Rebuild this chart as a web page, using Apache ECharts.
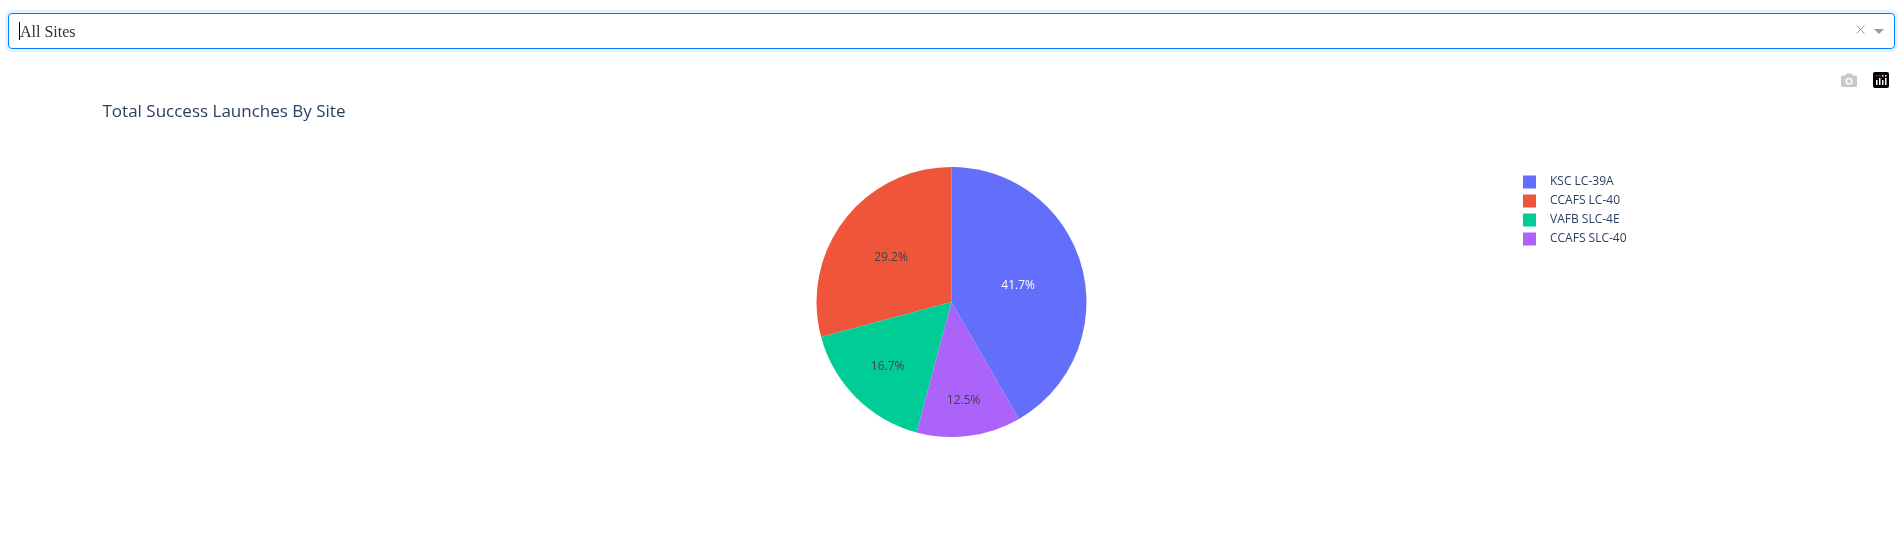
<!DOCTYPE html>
<html>
<head>
<meta charset="utf-8">
<script src="https://cdn.jsdelivr.net/npm/echarts@6/dist/echarts.min.js"></script>
<style>
html,body{margin:0;padding:0;background:#fff;width:1901px;height:549px;overflow:hidden}
#chart{position:absolute;left:0;top:0;width:1901px;height:549px}
#select{position:absolute;left:8px;top:13px;width:1887px;height:36px;box-sizing:border-box;border:1px solid #007eff;border-radius:4px;background:#fff;box-shadow:0 0 0 3px rgba(0,126,255,.1);font:16px "Liberation Serif",serif;color:#333;line-height:35px;padding-left:11px}
#caret{position:absolute;left:10px;top:8px;width:1px;height:18px;background:#000}
#clear{position:absolute;left:1847px;top:11px;width:9px;height:9px}
#arrow{position:absolute;left:1865px;top:15px;width:0;height:0;border-style:solid;border-width:5px 5px 0;border-color:#999 transparent transparent}
#camera{position:absolute;left:1841px;top:73px}
#logo{position:absolute;left:1873px;top:72px}
</style>
</head>
<body>
<div id="chart"></div>
<div id="select">All Sites<div id="caret"></div>
<svg id="clear" viewBox="0 0 9 9"><path d="M0.5 0.5L8.5 8.5M8.5 0.5L0.5 8.5" stroke="#999" stroke-width="1"/></svg>
<div id="arrow"></div></div>
<svg id="camera" width="16" height="14" viewBox="0 0 16 14"><path fill-rule="evenodd" fill="#c9c9c9" d="M1.5 2.5H4.5L5.5 0.5H10.5L11.5 2.5H14.5Q16 2.5 16 4V12.5Q16 14 14.5 14H1.5Q0 14 0 12.5V4Q0 2.5 1.5 2.5ZM8 4.8A3.5 3.5 0 1 0 8 11.8A3.5 3.5 0 1 0 8 4.8ZM8 6.3A2 2 0 1 1 8 10.3A2 2 0 1 1 8 6.3Z"/></svg>
<svg id="logo" width="16" height="16" viewBox="0 0 16 16"><rect width="16" height="16" rx="2" fill="#000"/><g fill="#fff"><rect x="3" y="8" width="1.5" height="5"/><rect x="6" y="6" width="1.5" height="7"/><rect x="9" y="8" width="1.5" height="5"/><rect x="12" y="6" width="1.5" height="7"/></g><g fill="#e6175c"><rect x="3" y="3" width="1.5" height="1.5"/><rect x="6" y="3" width="1.5" height="1.5"/></g><g fill="#fff"><rect x="9" y="3" width="1.5" height="1.5"/><rect x="12" y="3" width="1.5" height="1.5"/></g></svg>
<script>
var title = 'Total Success Launches By Site';
var sites = ['KSC LC-39A', 'CCAFS LC-40', 'VAFB SLC-4E', 'CCAFS SLC-40'];
var launches = [10, 7, 4, 3];
var colors = ['#636efa', '#ef553b', '#00cc96', '#ab63fa'];
var labelColors = ['#ffffff', '#444444', '#444444', '#444444'];
var labelShift = [[-1.5, 2], [-4.5, -1.5], [-14, 14.5], [3, 28.5]];

// Slices run counter-clockwise from the top, last site first.
var order = [1, 2, 3, 0];
var chart = echarts.init(document.getElementById('chart'), null, {renderer: 'canvas'});
chart.setOption({
  animation: false,
  title: {
    text: title, left: 102.5, top: 103.5, padding: 0,
    textStyle: {fontFamily: '"Open Sans"', fontSize: 17, fontWeight: 'normal', color: '#2a3f5f'}
  },
  legend: {
    data: sites, orient: 'vertical', left: 1523, top: 175.5, padding: 0,
    itemWidth: 13, itemHeight: 13, itemGap: 6, icon: 'rect',
    textStyle: {fontFamily: '"Open Sans"', fontSize: 12, color: '#2a3f5f', padding: [1, 0, 0, 9]},
    selectedMode: false
  },
  series: [{
    type: 'pie',
    center: [951.5, 302],
    radius: [0, 135],
    startAngle: 90,
    clockwise: false,
    sort: null,
    silent: true,
    legendHoverLink: false,
    percentPrecision: 3,
    data: order.map(function (i) {
      return {
        name: sites[i], value: launches[i],
        itemStyle: {color: colors[i]},
        label: {color: labelColors[i]}
      };
    }),
    label: {
      show: true, position: 'inside',
      fontFamily: '"Open Sans"', fontSize: 12,
      formatter: function (p) { return p.percent.toFixed(1) + '%'; }
    },
    labelLayout: function (p) {
      var s = labelShift[order[p.dataIndex]];
      return {dx: s[0], dy: s[1]};
    },
    labelLine: {show: false}
  }]
});
</script>
</body>
</html>
